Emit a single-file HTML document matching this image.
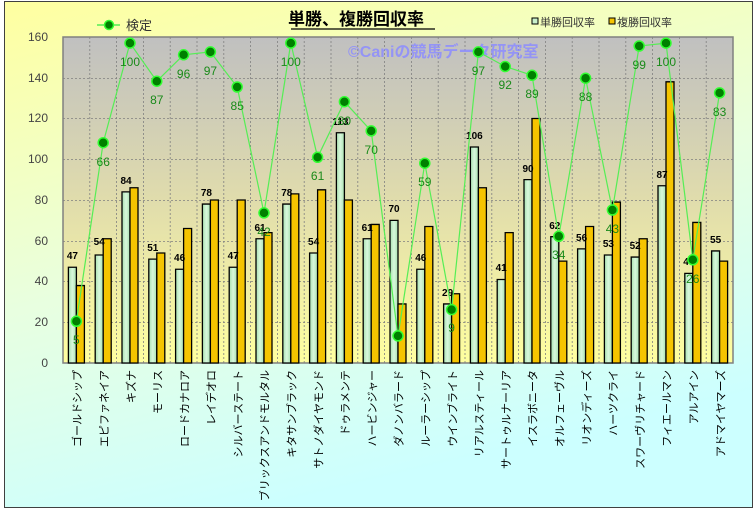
<!DOCTYPE html>
<html><head><meta charset="utf-8"><style>
html,body{margin:0;padding:0;background:#fff}
svg{display:block;font-family:"Liberation Sans","Noto Sans CJK JP",sans-serif}
</style></head><body>
<svg width="756" height="509" viewBox="0 0 756 509" xmlns="http://www.w3.org/2000/svg">
<defs>
<linearGradient id="bg" x1="0" y1="0" x2="0.35" y2="1">
<stop offset="0" stop-color="#ffffa0"/><stop offset="0.55" stop-color="#e8ffe0"/><stop offset="1" stop-color="#ccffff"/>
</linearGradient>
<linearGradient id="pa" x1="0" y1="0" x2="0" y2="1">
<stop offset="0" stop-color="#c0c0c0"/><stop offset="0.5" stop-color="#e0dcac"/><stop offset="1" stop-color="#ffffa0"/>
</linearGradient>
<linearGradient id="wb" x1="0" y1="0" x2="1" y2="0">
<stop offset="0" stop-color="#a8e0b0"/><stop offset="0.5" stop-color="#d8f8dc"/><stop offset="1" stop-color="#a8e0b0"/>
</linearGradient>
</defs>
<rect x="4.5" y="1.5" width="748" height="506" fill="url(#bg)" stroke="#404040"/>
<rect x="63" y="37" width="670" height="326" fill="url(#pa)"/>
<g stroke="#808080" stroke-width="0.8" stroke-dasharray="2,2">
<line x1="63" y1="78.5" x2="733" y2="78.5"/><line x1="63" y1="118.5" x2="733" y2="118.5"/><line x1="63" y1="159.5" x2="733" y2="159.5"/><line x1="63" y1="200.5" x2="733" y2="200.5"/><line x1="63" y1="241.5" x2="733" y2="241.5"/><line x1="63" y1="281.5" x2="733" y2="281.5"/><line x1="63" y1="322.5" x2="733" y2="322.5"/>
<line x1="89.8" y1="37" x2="89.8" y2="363"/><line x1="116.6" y1="37" x2="116.6" y2="363"/><line x1="143.4" y1="37" x2="143.4" y2="363"/><line x1="170.2" y1="37" x2="170.2" y2="363"/><line x1="197" y1="37" x2="197" y2="363"/><line x1="223.8" y1="37" x2="223.8" y2="363"/><line x1="250.6" y1="37" x2="250.6" y2="363"/><line x1="277.4" y1="37" x2="277.4" y2="363"/><line x1="304.2" y1="37" x2="304.2" y2="363"/><line x1="331" y1="37" x2="331" y2="363"/><line x1="357.8" y1="37" x2="357.8" y2="363"/><line x1="384.6" y1="37" x2="384.6" y2="363"/><line x1="411.4" y1="37" x2="411.4" y2="363"/><line x1="438.2" y1="37" x2="438.2" y2="363"/><line x1="465" y1="37" x2="465" y2="363"/><line x1="491.8" y1="37" x2="491.8" y2="363"/><line x1="518.6" y1="37" x2="518.6" y2="363"/><line x1="545.4" y1="37" x2="545.4" y2="363"/><line x1="572.2" y1="37" x2="572.2" y2="363"/><line x1="599" y1="37" x2="599" y2="363"/><line x1="625.8" y1="37" x2="625.8" y2="363"/><line x1="652.6" y1="37" x2="652.6" y2="363"/><line x1="679.4" y1="37" x2="679.4" y2="363"/><line x1="706.2" y1="37" x2="706.2" y2="363"/>
</g>
<rect x="63" y="37" width="670" height="326" fill="none" stroke="#808080" stroke-width="1.5"/>
<text x="348" y="57" font-size="16" fill="#8c8cff" fill-opacity="0.85" font-weight="bold">©Caniの競馬データ研究室</text>
<g font-size="12" fill="#444" text-anchor="end">
<text x="48" y="367">0</text><text x="48" y="326">20</text><text x="48" y="285">40</text><text x="48" y="245">60</text><text x="48" y="204">80</text><text x="48" y="163">100</text><text x="48" y="122">120</text><text x="48" y="82">140</text><text x="48" y="41">160</text>
</g>
<g transform="translate(0,363) scale(1,-2.0375)" stroke="#000" stroke-width="1.3">
<g fill="url(#wb)">
<rect vector-effect="non-scaling-stroke" x="68.4" y="0" width="8" height="47"/>
<rect vector-effect="non-scaling-stroke" x="95.2" y="0" width="8" height="53"/>
<rect vector-effect="non-scaling-stroke" x="122" y="0" width="8" height="84"/>
<rect vector-effect="non-scaling-stroke" x="148.8" y="0" width="8" height="51"/>
<rect vector-effect="non-scaling-stroke" x="175.6" y="0" width="8" height="46"/>
<rect vector-effect="non-scaling-stroke" x="202.4" y="0" width="8" height="78"/>
<rect vector-effect="non-scaling-stroke" x="229.2" y="0" width="8" height="47"/>
<rect vector-effect="non-scaling-stroke" x="256" y="0" width="8" height="61"/>
<rect vector-effect="non-scaling-stroke" x="282.8" y="0" width="8" height="78"/>
<rect vector-effect="non-scaling-stroke" x="309.6" y="0" width="8" height="54"/>
<rect vector-effect="non-scaling-stroke" x="336.4" y="0" width="8" height="113"/>
<rect vector-effect="non-scaling-stroke" x="363.2" y="0" width="8" height="61"/>
<rect vector-effect="non-scaling-stroke" x="390" y="0" width="8" height="70"/>
<rect vector-effect="non-scaling-stroke" x="416.8" y="0" width="8" height="46"/>
<rect vector-effect="non-scaling-stroke" x="443.6" y="0" width="8" height="29"/>
<rect vector-effect="non-scaling-stroke" x="470.4" y="0" width="8" height="106"/>
<rect vector-effect="non-scaling-stroke" x="497.2" y="0" width="8" height="41"/>
<rect vector-effect="non-scaling-stroke" x="524" y="0" width="8" height="90"/>
<rect vector-effect="non-scaling-stroke" x="550.8" y="0" width="8" height="62"/>
<rect vector-effect="non-scaling-stroke" x="577.6" y="0" width="8" height="56"/>
<rect vector-effect="non-scaling-stroke" x="604.4" y="0" width="8" height="53"/>
<rect vector-effect="non-scaling-stroke" x="631.2" y="0" width="8" height="52"/>
<rect vector-effect="non-scaling-stroke" x="658" y="0" width="8" height="87"/>
<rect vector-effect="non-scaling-stroke" x="684.8" y="0" width="8" height="44"/>
<rect vector-effect="non-scaling-stroke" x="711.6" y="0" width="8" height="55"/>
</g>
<g fill="#f5c400">
<rect vector-effect="non-scaling-stroke" x="76.4" y="0" width="8" height="38"/>
<rect vector-effect="non-scaling-stroke" x="103.2" y="0" width="8" height="61"/>
<rect vector-effect="non-scaling-stroke" x="130" y="0" width="8" height="86"/>
<rect vector-effect="non-scaling-stroke" x="156.8" y="0" width="8" height="54"/>
<rect vector-effect="non-scaling-stroke" x="183.6" y="0" width="8" height="66"/>
<rect vector-effect="non-scaling-stroke" x="210.4" y="0" width="8" height="80"/>
<rect vector-effect="non-scaling-stroke" x="237.2" y="0" width="8" height="80"/>
<rect vector-effect="non-scaling-stroke" x="264" y="0" width="8" height="64"/>
<rect vector-effect="non-scaling-stroke" x="290.8" y="0" width="8" height="83"/>
<rect vector-effect="non-scaling-stroke" x="317.6" y="0" width="8" height="85"/>
<rect vector-effect="non-scaling-stroke" x="344.4" y="0" width="8" height="80"/>
<rect vector-effect="non-scaling-stroke" x="371.2" y="0" width="8" height="68"/>
<rect vector-effect="non-scaling-stroke" x="398" y="0" width="8" height="29"/>
<rect vector-effect="non-scaling-stroke" x="424.8" y="0" width="8" height="67"/>
<rect vector-effect="non-scaling-stroke" x="451.6" y="0" width="8" height="34"/>
<rect vector-effect="non-scaling-stroke" x="478.4" y="0" width="8" height="86"/>
<rect vector-effect="non-scaling-stroke" x="505.2" y="0" width="8" height="64"/>
<rect vector-effect="non-scaling-stroke" x="532" y="0" width="8" height="120"/>
<rect vector-effect="non-scaling-stroke" x="558.8" y="0" width="8" height="50"/>
<rect vector-effect="non-scaling-stroke" x="585.6" y="0" width="8" height="67"/>
<rect vector-effect="non-scaling-stroke" x="612.4" y="0" width="8" height="79"/>
<rect vector-effect="non-scaling-stroke" x="639.2" y="0" width="8" height="61"/>
<rect vector-effect="non-scaling-stroke" x="666" y="0" width="8" height="138"/>
<rect vector-effect="non-scaling-stroke" x="692.8" y="0" width="8" height="69"/>
<rect vector-effect="non-scaling-stroke" x="719.6" y="0" width="8" height="50"/>
</g>
</g>
<g font-size="10" font-weight="bold" fill="#000" text-anchor="middle">
<text x="72.4" y="259">47</text><text x="99.2" y="245">54</text><text x="126" y="184">84</text><text x="152.8" y="251">51</text><text x="179.6" y="261">46</text><text x="206.4" y="196">78</text><text x="233.2" y="259">47</text><text x="260" y="231">61</text><text x="286.8" y="196">78</text><text x="313.6" y="245">54</text><text x="340.4" y="125">113</text><text x="367.2" y="231">61</text><text x="394" y="212">70</text><text x="420.8" y="261">46</text><text x="447.6" y="296">29</text><text x="474.4" y="139">106</text><text x="501.2" y="271">41</text><text x="528" y="172">90</text><text x="554.8" y="229">62</text><text x="581.6" y="241">56</text><text x="608.4" y="247">53</text><text x="635.2" y="249">52</text><text x="662" y="178">87</text><text x="688.8" y="265">44</text><text x="715.6" y="243">55</text>
</g>
<polyline fill="none" stroke="#55ee55" stroke-width="1.2" points="76.4,321.3 103.2,142.7 130,43.1 156.8,81.2 183.6,54.8 210.4,51.9 237.2,87 264,212.9 290.8,43.1 317.6,157.3 344.4,101.7 371.2,130.9 398,335.9 424.8,163.2 451.6,309.6 478.4,51.9 505.2,66.5 532,75.3 558.8,236.3 585.6,78.2 612.4,210 639.2,46 666,43.1 692.8,259.8 719.6,92.9"/>
<g fill="#008000" stroke="#33ff33" stroke-width="1.5">
<circle cx="76.4" cy="321.3" r="5"/><circle cx="103.2" cy="142.7" r="5"/><circle cx="130" cy="43.1" r="5"/><circle cx="156.8" cy="81.2" r="5"/><circle cx="183.6" cy="54.8" r="5"/><circle cx="210.4" cy="51.9" r="5"/><circle cx="237.2" cy="87" r="5"/><circle cx="264" cy="212.9" r="5"/><circle cx="290.8" cy="43.1" r="5"/><circle cx="317.6" cy="157.3" r="5"/><circle cx="344.4" cy="101.7" r="5"/><circle cx="371.2" cy="130.9" r="5"/><circle cx="398" cy="335.9" r="5"/><circle cx="424.8" cy="163.2" r="5"/><circle cx="451.6" cy="309.6" r="5"/><circle cx="478.4" cy="51.9" r="5"/><circle cx="505.2" cy="66.5" r="5"/><circle cx="532" cy="75.3" r="5"/><circle cx="558.8" cy="236.3" r="5"/><circle cx="585.6" cy="78.2" r="5"/><circle cx="612.4" cy="210" r="5"/><circle cx="639.2" cy="46" r="5"/><circle cx="666" cy="43.1" r="5"/><circle cx="692.8" cy="259.8" r="5"/><circle cx="719.6" cy="92.9" r="5"/>
</g>
<g font-size="12" fill="#1a8a1a" text-anchor="middle">
<text x="76.4" y="344">5</text><text x="103.2" y="166">66</text><text x="130" y="66">100</text><text x="156.8" y="104">87</text><text x="183.6" y="78">96</text><text x="210.4" y="75">97</text><text x="237.2" y="110">85</text><text x="264" y="236">42</text><text x="290.8" y="66">100</text><text x="317.6" y="180">61</text><text x="344.4" y="125">80</text><text x="371.2" y="154">70</text><text x="424.8" y="186">59</text><text x="451.6" y="332">9</text><text x="478.4" y="75">97</text><text x="505.2" y="89">92</text><text x="532" y="98">89</text><text x="558.8" y="259">34</text><text x="585.6" y="101">88</text><text x="612.4" y="233">43</text><text x="639.2" y="69">99</text><text x="666" y="66">100</text><text x="692.8" y="283">26</text><text x="719.6" y="116">83</text>
</g>
<g font-size="11" fill="#000" text-anchor="end">
<text transform="translate(81,370) rotate(-90)">ゴールドシップ</text>
<text transform="translate(108,370) rotate(-90)">エピファネイア</text>
<text transform="translate(135,370) rotate(-90)">キズナ</text>
<text transform="translate(161.5,370) rotate(-90)">モーリス</text>
<text transform="translate(188.5,370) rotate(-90)">ロードカナロア</text>
<text transform="translate(215,370) rotate(-90)">レイデオロ</text>
<text transform="translate(242,370) rotate(-90)">シルバーステート</text>
<text transform="translate(268.5,370) rotate(-90)">ブリックスアンドモルタル</text>
<text transform="translate(295.5,370) rotate(-90)">キタサンブラック</text>
<text transform="translate(322.5,370) rotate(-90)">サトノダイヤモンド</text>
<text transform="translate(349,370) rotate(-90)">ドゥラメンテ</text>
<text transform="translate(376,370) rotate(-90)">ハービンジャー</text>
<text transform="translate(402.5,370) rotate(-90)">ダノンバラード</text>
<text transform="translate(429.5,370) rotate(-90)">ルーラーシップ</text>
<text transform="translate(456.5,370) rotate(-90)">ウインブライト</text>
<text transform="translate(483,370) rotate(-90)">リアルスティール</text>
<text transform="translate(510,370) rotate(-90)">サートゥルナーリア</text>
<text transform="translate(536.5,370) rotate(-90)">イスラボニータ</text>
<text transform="translate(563.5,370) rotate(-90)">オルフェーヴル</text>
<text transform="translate(590.5,370) rotate(-90)">リオンディーズ</text>
<text transform="translate(617,370) rotate(-90)">ハーツクライ</text>
<text transform="translate(644,370) rotate(-90)">スワーヴリチャード</text>
<text transform="translate(670.5,370) rotate(-90)">フィエールマン</text>
<text transform="translate(697.5,370) rotate(-90)">アルアイン</text>
<text transform="translate(724.5,370) rotate(-90)">アドマイヤマーズ</text>
</g>
<text x="356" y="25" font-size="17" font-weight="bold" fill="#000" text-anchor="middle">単勝、複勝回収率</text>
<line x1="291" y1="29" x2="435" y2="29" stroke="#000" stroke-width="1.3"/>
<line x1="97" y1="25" x2="120" y2="25" stroke="#55ee55" stroke-width="1.5"/>
<circle cx="109" cy="25" r="4.5" fill="#008000" stroke="#33ff33" stroke-width="1.5"/>
<text x="126" y="30" font-size="13" fill="#333">検定</text>
<rect x="532" y="18" width="6" height="6" fill="#c8f0cc" stroke="#000"/>
<text x="540" y="26" font-size="11" fill="#333">単勝回収率</text>
<rect x="609" y="18" width="6" height="6" fill="#f5c400" stroke="#000"/>
<text x="617" y="26" font-size="11" fill="#333">複勝回収率</text>
</svg>
</body></html>
